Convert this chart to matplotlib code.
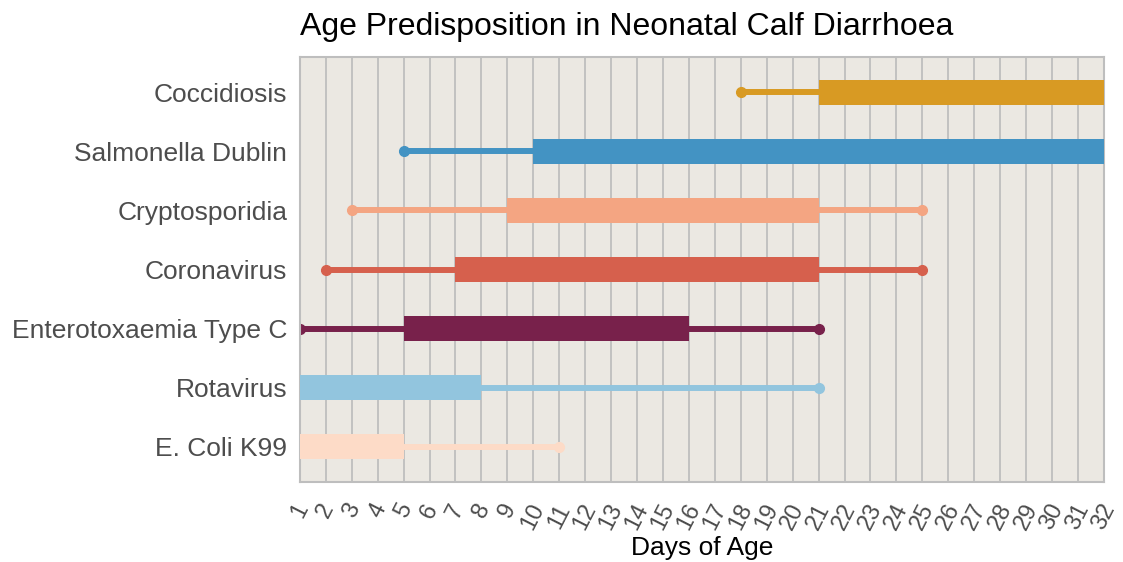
import matplotlib
matplotlib.use('Agg')
import matplotlib.pyplot as plt

plt.rcParams['font.family'] = ['Liberation Sans', 'DejaVu Sans']

# 数据：疾病名称及易感年龄范围（天）
diseases = ['Coccidiosis', 'Salmonella Dublin', 'Cryptosporidia', 'Coronavirus',
            'Enterotoxaemia Type C', 'Rotavirus', 'E. Coli K99']
thin_start = [18, 5, 3, 2, 1, 1, 1]
thin_end = [32, 32, 25, 25, 21, 21, 11]
thick_start = [21, 10, 9, 7, 5, 1, 1]
thick_end = [32, 32, 21, 21, 16, 8, 5]
colors = ['#D89A23', '#4393C3', '#F4A582', '#D6604D', '#78214B', '#92C5DE', '#FDDBC7']
days = list(range(1, 33))

fig = plt.figure(figsize=(11.23, 5.62), dpi=100)
ax = fig.add_axes([0.267, 0.1423, 0.716, 0.7563])
ax.set_facecolor('#EBE8E2')

# 竖直网格线
for d in days:
    ax.axvline(d, color='#BEBEBE', lw=1.3, zorder=1)

# 从上到下排列
ypos = list(range(len(diseases)))[::-1]
for i, name in enumerate(diseases):
    y = ypos[i]
    ax.plot([thin_start[i], thin_end[i]], [y, y], '-o', color=colors[i], lw=4.3,
            ms=7, solid_capstyle='round', zorder=2)
    ax.barh(y, thick_end[i] - thick_start[i], left=thick_start[i], height=0.43,
            color=colors[i], zorder=3)

ax.set_xlim(1, 32)
ax.set_ylim(-0.6, len(diseases) - 0.4)
ax.set_yticks(ypos)
ax.set_yticklabels(diseases, fontsize=19, color='#4D4D4D')
ax.set_xticks(days)
ax.set_xticklabels([str(d) for d in days], rotation=63, fontsize=17, color='#4D4D4D',
                   ha='center', va='top')
ax.tick_params(axis='y', length=0, pad=9)
ax.tick_params(axis='x', length=0, pad=13)
for s in ax.spines.values():
    s.set_color('#BEBEBE')
    s.set_linewidth(1.5)

ax.set_xlabel('Days of Age', fontsize=19, color='black', labelpad=2)
fig.text(0.267, 0.925, 'Age Predisposition in Neonatal Calf Diarrhoea', fontsize=23,
         ha='left', va='bottom')

fig.savefig('out.png', dpi=100)
